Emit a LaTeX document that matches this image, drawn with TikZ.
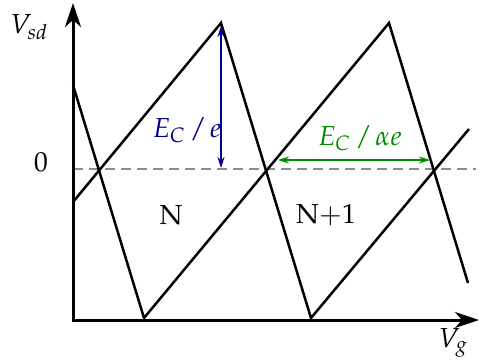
\documentclass[tikz,border=0pt]{standalone}
\usepackage{mathpazo}
\usetikzlibrary{arrows.meta}
\definecolor{navyc}{RGB}{0,0,140}
\definecolor{greenc}{RGB}{0,140,0}
\definecolor{dashc}{RGB}{140,140,140}
\begin{document}
\begin{tikzpicture}[x=1pt,y=-1pt,
  axis/.style={line width=3pt,-{Stealth[length=24pt,width=16pt,inset=7pt]}},
  saw/.style={line width=2.5pt,line join=miter},
  zeroline/.style={dashc,line width=1.6pt,dash pattern=on 10pt off 6pt},
  dim/.style={line width=1.6pt,{Stealth[length=11pt,width=7pt]}-{Stealth[length=11pt,width=7pt]}},
  lab/.style={font=\fontsize{27.5}{32}\selectfont,inner sep=0pt}]
\useasboundingbox (0,0) rectangle (480,360);
\coordinate (O) at (73,320);
\coordinate (ytop) at (73,3);
\coordinate (xend) at (479,320);
\coordinate (a0) at (73,85);
\coordinate (b1) at (144,318);
\coordinate (p2) at (389,23);
\coordinate (a3) at (468,283);
\coordinate (c0) at (73,202);
\coordinate (p1) at (221,23);
\coordinate (b2) at (311,318);
\coordinate (c3) at (469,129);
\coordinate (z0) at (73,169);
\coordinate (z1) at (476,169);
\coordinate (u0) at (221,26);
\coordinate (u1) at (221,168);
\coordinate (g0) at (278,160);
\coordinate (g1) at (430,160);
\draw[zeroline] (z0) -- (z1);
\draw[saw] (a0) -- (b1) -- (p2) -- (a3);
\draw[saw] (c0) -- (p1) -- (b2) -- (c3);
\draw[axis] (O) -- (ytop);
\draw[axis] ([xshift=-1.5pt]O) -- (xend);
\draw[dim,navyc] (u0) -- (u1);
\draw[dim,greenc] (g0) -- (g1);
\node[lab] (vsd) at (29,27) {$V_{sd}$};
\node[lab] (vg) at (453,343) {$V_g$};
\node[lab] (zero) at (41,162) {$0$};
\node[lab] (n) at (171,215) {$\mathrm{N}$};
\node[lab] (n1) at (326,215) {$\mathrm{N}{+}\mathrm{1}$};
\node[lab,navyc] (ece) at (187,130) {$E_C\mkern3mu/\mkern2mu e$};
\node[lab,greenc] (ecae) at (360,138) {$E_C\mkern3mu/\mkern2mu\alpha e$};
\end{tikzpicture}
\end{document}
